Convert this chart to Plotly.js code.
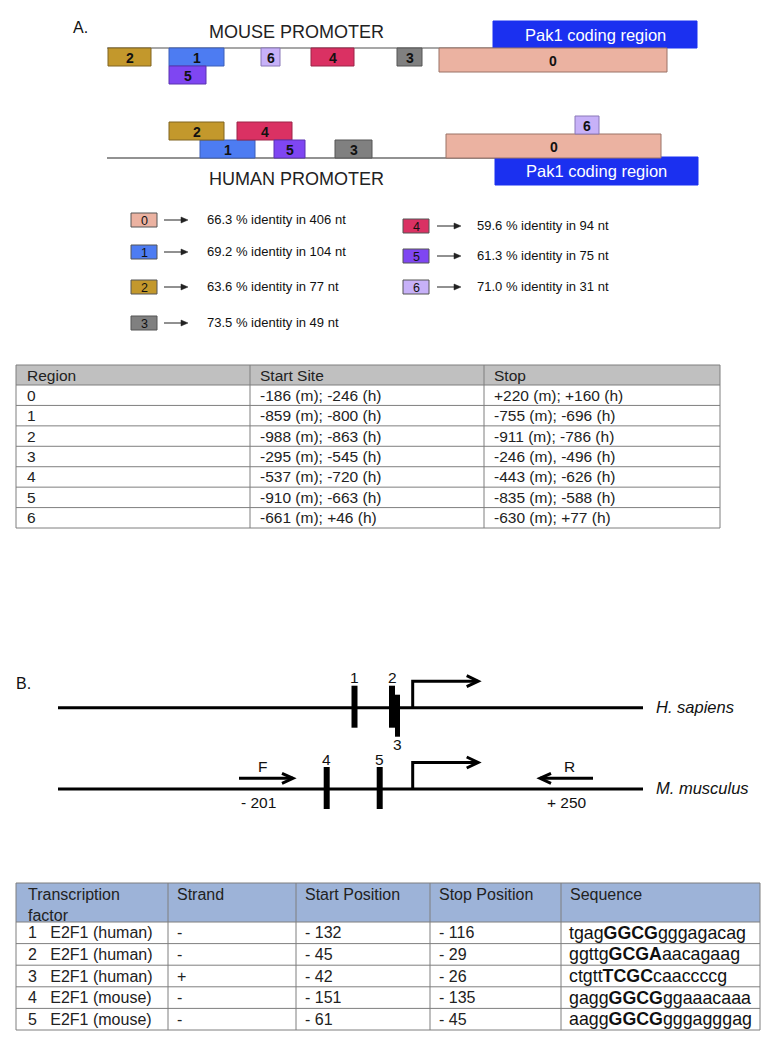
<!DOCTYPE html>
<html><head><meta charset="utf-8">
<script src="https://cdn.plot.ly/plotly-3.0.1.min.js"></script>
<style>html,body{margin:0;padding:0;background:#fff}</style>
</head><body>
<div id="chart" style="width:784px;height:1050px"></div>
<script>
// ================= DATA =================
// Panel A: conserved regions between mouse and human Pak1 promoters
const regionIds   = ['0', '1', '2', '3', '4', '5', '6'];
const identityPct = [66.3, 69.2, 63.6, 73.5, 59.6, 61.3, 71.0];
const identityNt  = [406, 104, 77, 49, 94, 75, 31];
// schematic extents of each region along the drawn promoters
const mouseFrom      = [439, 169, 108, 397, 311, 169, 261];
const mouseTo        = [667, 224, 151, 422, 354, 206, 280];
const mouseStackedOn = [null, null, null, null, null, '1', null];
const humanFrom      = [446, 200, 169, 335, 237, 274, 575];
const humanTo        = [661, 255, 224, 372, 292, 305, 599];
const humanStackedOn = [null, null, '1', null, '5', null, '0'];
const pak1Mouse = [493, 697];
const pak1Human = [495, 698];
const promoterNames = ['MOUSE PROMOTER', 'HUMAN PROMOTER'];
const codingName = 'Pak1 coding region';

// Table 1
const t1Header = ['Region', 'Start Site', 'Stop'];
const t1Region = ['0', '1', '2', '3', '4', '5', '6'];
const t1Start  = ['-186 (m); -246 (h)', '-859 (m); -800 (h)', '-988 (m); -863 (h)', '-295 (m); -545 (h)',
                  '-537 (m); -720 (h)', '-910 (m); -663 (h)', '-661 (m); +46 (h)'];
const t1Stop   = ['+220 (m); +160 (h)', '-755 (m); -696 (h)', '-911 (m); -786 (h)', '-246 (m), -496 (h)',
                  '-443 (m); -626 (h)', '-835 (m); -588 (h)', '-630 (m); +77 (h)'];

// Panel B: E2F1 sites
const tfNum     = ['1', '2', '3', '4', '5'];
const tfName    = ['E2F1 (human)', 'E2F1 (human)', 'E2F1 (human)', 'E2F1 (mouse)', 'E2F1 (mouse)'];
const tfSpecies = ['human', 'human', 'human', 'mouse', 'mouse'];
const tfStrand  = ['-', '-', '+', '-', '-'];
const tfStart   = ['- 132', '- 45', '- 42', '- 151', '- 61'];
const tfStop    = ['- 116', '- 29', '- 26', '- 135', '- 45'];
const seqLeft   = ['tgag', 'ggttg', 'ctgtt', 'gagg', 'aagg'];
const seqCore   = ['GGCG', 'GCGA', 'TCGC', 'GGCG', 'GGCG'];
const seqRight  = ['gggagacag', 'aacagaag', 'caaccccg', 'ggaaacaaa', 'gggagggag'];
const tfSchematicX = [354.5, 392, 397.5, 326.7, 379.7];
const tssSchematicX = 412.7;
const speciesNames = ['H. sapiens', 'M. musculus'];
const primerNames = ['F', 'R'];
const primerPos   = ['- 201', '+ 250'];
const primerFrom  = [239, 593];
const primerTo    = [293, 540];
const t2Header = ['Transcription<br>factor', 'Strand', 'Start Position', 'Stop Position', 'Sequence'];

// ================= STYLE / LAYOUT =================
const FONT = 'Liberation Sans, Arial, Helvetica, sans-serif';
const regionFill = {'0':'#EBB2A1','1':'#4D7CF2','2':'#C3982C','3':'#808080','4':'#DA3163','5':'#7F46F2','6':'#C7B1F8'};
const regionEdge = {'0':'#9a7266','1':'#3c5fb8','2':'#806420','3':'#555555','4':'#9c2448','5':'#5a32b0','6':'#8a78b8'};
const pak1Color = '#1B30F0';
const L = {
  mLine: 48, hLine: 158, lineX0: 107,
  boxH: 18, box0H: 24, pakH: 27,
  legendRowsY: [220, 252, 287, 323, 226, 256, 287],
  legendCol: [{box:131, arrow:164, text:206}, {box:403, arrow:437, text:476}],
  t1: {x:[16, 250, 484, 720], top:365, headH:20, rowH:20.43},
  t2: {x:[16, 168, 296, 430, 561, 760], top:883, headH:39, rowH:21.6},
  bHumanY: 707.7, bMouseY: 789, bLineX:[58, 643], siteH: 42, siteW: 6
};

const shapes = [];
const ann = [];
function rect(x0, y0, x1, y1, fill, edge, w) {
  shapes.push({type:'rect', xref:'x', yref:'y', x0, y0, x1, y1, fillcolor:fill,
               line:{color:edge || fill, width: w === undefined ? 1 : w}, layer:'above'});
}
function seg(x0, y0, x1, y1, color, w) {
  shapes.push({type:'line', xref:'x', yref:'y', x0, y0, x1, y1, line:{color, width:w}, layer:'above'});
}
function path(d, color, w, fill) {
  shapes.push({type:'path', xref:'x', yref:'y', path:d, line:{color, width:w},
               fillcolor: fill || 'rgba(0,0,0,0)', layer:'above'});
}
function txt(x, y, text, size, opt) {
  opt = opt || {};
  ann.push({x, y, xref:'x', yref:'y', text, showarrow:false,
            xanchor: opt.xa || 'center', yanchor: opt.ya || 'middle',
            align: opt.align || 'left', borderpad: 0,
            font:{family: FONT, size, color: opt.color || '#111'}});
}

// ---------- Panel A ----------
txt(72, 27, 'A.', 16, {xa:'left'});
const heightOf = id => (id === '0' ? L.box0H : L.boxH);
// promoter lines
seg(L.lineX0, L.mLine, pak1Mouse[0], L.mLine, '#8a8a8a', 1.5);
seg(L.lineX0, L.hLine, pak1Human[0], L.hLine, '#6e6e6e', 1.5);
// Pak1 coding boxes
rect(pak1Mouse[0], L.mLine - L.pakH, pak1Mouse[1], L.mLine, pak1Color, pak1Color, 1);
rect(pak1Human[0], L.hLine - 1, pak1Human[1], L.hLine - 1 + 28, pak1Color, pak1Color, 1);
txt((pak1Mouse[0] + pak1Mouse[1]) / 2, L.mLine - L.pakH / 2, codingName, 16.5, {color:'#ffffff'});
txt((pak1Human[0] + pak1Human[1]) / 2, L.hLine + 13, codingName, 16.5, {color:'#ffffff'});
txt(296, 32, promoterNames[0], 18, {color:'#222'});
txt(296, 179, promoterNames[1], 18, {color:'#222'});

regionIds.forEach((id, i) => {
  const h = heightOf(id);
  // mouse: boxes hang below the line
  const mTop = L.mLine + (mouseStackedOn[i] ? heightOf(mouseStackedOn[i]) : 0);
  rect(mouseFrom[i], mTop, mouseTo[i], mTop + h, regionFill[id], regionEdge[id], 1);
  txt((mouseFrom[i] + mouseTo[i]) / 2, mTop + h / 2 + 0.5, '<b>' + id + '</b>', 14, {color:'#111'});
  // human: boxes sit above the line
  const hBot = L.hLine - (humanStackedOn[i] ? heightOf(humanStackedOn[i]) : 0);
  rect(humanFrom[i], hBot - h, humanTo[i], hBot, regionFill[id], regionEdge[id], 1);
  txt((humanFrom[i] + humanTo[i]) / 2, hBot - h / 2 + 0.5, '<b>' + id + '</b>', 14, {color:'#111'});
  // legend
  const col = i < 4 ? L.legendCol[0] : L.legendCol[1];
  const y = L.legendRowsY[i];
  rect(col.box, y - 7, col.box + 26, y + 7, regionFill[id], '#555555', 1);
  txt(col.box + 13, y + 0.5, id, 12.5, {color:'#111'});
  seg(col.arrow, y, col.arrow + 19, y, '#222', 1);
  path(`M ${col.arrow + 24} ${y} L ${col.arrow + 17} ${y - 3} L ${col.arrow + 17} ${y + 3} Z`, '#222', 0.5, '#222');
  txt(col.text, y - 1, identityPct[i].toFixed(1) + ' % identity in ' + identityNt[i] + ' nt', 13, {xa:'left', color:'#111'});
});

// ---------- Table 1 ----------
(function () {
  const T = L.t1, n = t1Region.length;
  const bottom = T.top + T.headH + n * T.rowH;
  rect(T.x[0], T.top, T.x[3], T.top + T.headH, '#C0C0C0', '#C0C0C0', 0);
  const gc = '#7f7f7f';
  seg(T.x[0], T.top, T.x[3], T.top, gc, 1);
  for (let r = 0; r <= n; r++) { const y = T.top + T.headH + r * T.rowH; seg(T.x[0], y, T.x[3], y, gc, 1); }
  T.x.forEach(x => seg(x, T.top, x, bottom, gc, 1));
  const cols = [t1Region, t1Start, t1Stop];
  t1Header.forEach((h, c) => txt(T.x[c] + (c === 0 ? 10 : 9), T.top + T.headH / 2, h, 15.5, {xa:'left', color:'#222'}));
  cols.forEach((arr, c) => arr.forEach((v, r) =>
    txt(T.x[c] + (c === 0 ? 10 : 9), T.top + T.headH + (r + 0.5) * T.rowH, v, 15.5, {xa:'left', color:'#222'})));
})();

// ---------- Panel B ----------
txt(15, 683, 'B.', 16, {xa:'left'});
const lineY = {human: L.bHumanY, mouse: L.bMouseY};
[L.bHumanY, L.bMouseY].forEach((y, k) => {
  seg(L.bLineX[0], y, L.bLineX[1], y, '#000', 3);
  txt(655, y - 1, '<i>' + speciesNames[k] + '</i>', 16.5, {xa:'left', color:'#111'});
  // transcription start arrow
  const top = y - 26.5;
  path(`M ${tssSchematicX} ${y} L ${tssSchematicX} ${top} L ${tssSchematicX + 65} ${top}`, '#000', 3);
  path(`M ${tssSchematicX + 54} ${top - 5.5} L ${tssSchematicX + 65.5} ${top} L ${tssSchematicX + 54} ${top + 5.5}`, '#000', 3);
});
tfNum.forEach((num, i) => {
  const y = lineY[tfSpecies[i]];
  const shift = tfStrand[i] === '+' ? 8 : -1;
  const x = tfSchematicX[i];
  const w = tfStrand[i] === '+' ? 5 : L.siteW;
  rect(x - w / 2, y - L.siteH / 2 + shift, x + w / 2, y + L.siteH / 2 + shift, '#000', '#000', 0);
  const ly = tfStrand[i] === '+' ? y + L.siteH / 2 + shift + 8 : y - L.siteH / 2 + shift - 8;
  txt(x, ly, num, 15.5, {color:'#111'});
});
primerNames.forEach((p, i) => {
  const y = L.bMouseY - 10.7;
  const dir = primerTo[i] > primerFrom[i] ? 1 : -1;
  const mid = (primerFrom[i] + primerTo[i]) / 2;
  seg(primerFrom[i], y, primerTo[i], y, '#000', 3);
  path(`M ${primerTo[i] - dir * 11} ${y - 5} L ${primerTo[i]} ${y} L ${primerTo[i] - dir * 11} ${y + 5}`, '#000', 3);
  txt(dir > 0 ? mid - 4 : mid + 2.5, y - 12, p, 15.5, {color:'#111'});
  txt(dir > 0 ? mid - 8 : mid, L.bMouseY + 13, primerPos[i], 15.5, {color:'#111'});
});

// ---------- Table 2 ----------
(function () {
  const T = L.t2, n = tfNum.length, X = T.x;
  const bottom = T.top + T.headH + n * T.rowH;
  rect(X[0], T.top, X[5], T.top + T.headH, '#9DB3D8', '#9DB3D8', 0);
  const gc = '#7f7f7f';
  seg(X[0], T.top, X[5], T.top, gc, 1);
  for (let r = 0; r <= n; r++) { const y = T.top + T.headH + r * T.rowH; seg(X[0], y, X[5], y, gc, 1); }
  X.forEach(x => seg(x, T.top, x, bottom, gc, 1));
  t2Header.forEach((h, c) => txt(X[c] + (c === 0 ? 11 : 8), T.top + 2, h, 16, {xa:'left', ya:'top', color:'#222'}));
  tfNum.forEach((num, r) => {
    const y = T.top + T.headH + (r + 0.5) * T.rowH;
    txt(X[0] + 11, y, num + '\u00a0\u00a0\u00a0' + tfName[r], 16, {xa:'left', color:'#222'});
    txt(X[1] + 8, y, tfStrand[r], 16, {xa:'left', color:'#222'});
    txt(X[2] + 8, y, tfStart[r], 16, {xa:'left', color:'#222'});
    txt(X[3] + 8, y, tfStop[r], 16, {xa:'left', color:'#222'});
    txt(X[4] + 7, y, seqLeft[r] + '<b>' + seqCore[r] + '</b>' + seqRight[r], 17.8, {xa:'left', color:'#111'});
  });
})();

const layout = {
  width: 784, height: 1050, margin:{l:0, r:0, t:0, b:0},
  paper_bgcolor:'#ffffff', plot_bgcolor:'#ffffff', showlegend:false,
  xaxis:{range:[0, 784], visible:false, fixedrange:true},
  yaxis:{range:[1050, 0], visible:false, fixedrange:true},
  shapes, annotations: ann
};
Plotly.newPlot('chart', [{x:[], y:[], type:'scatter', mode:'markers', hoverinfo:'skip'}], layout,
               {displayModeBar:false, staticPlot:true});
</script>
</body></html>
